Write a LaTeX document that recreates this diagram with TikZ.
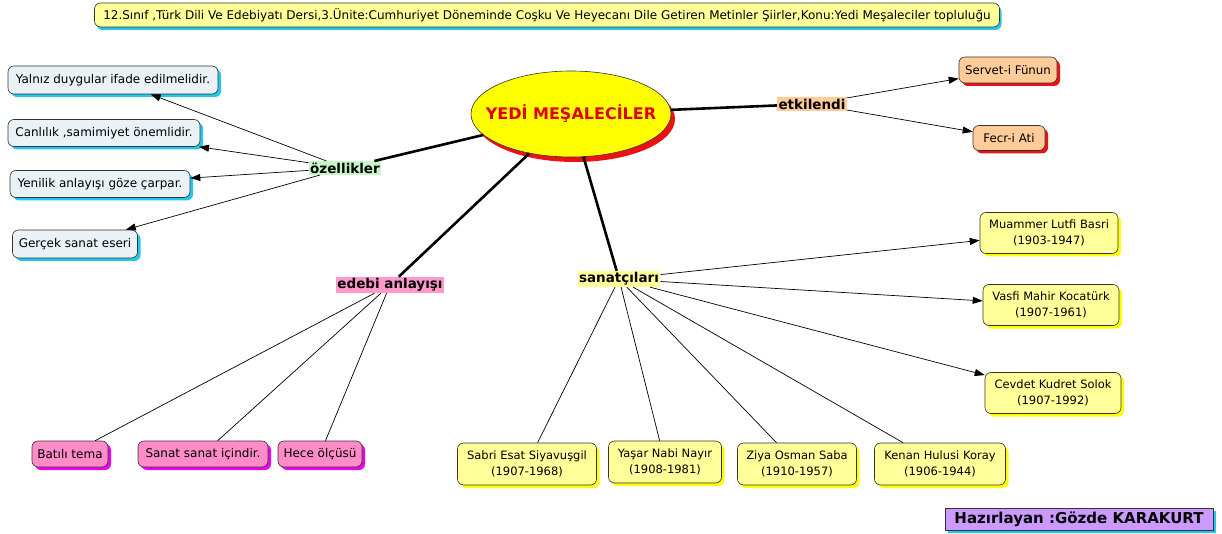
\documentclass[tikz,border=0pt]{standalone}
\usepackage{fontspec}
\setmainfont{DejaVu Sans}
\usetikzlibrary{shapes.geometric,shadows,arrows.meta}
\definecolor{boxblue}{HTML}{EAF2F6}
\definecolor{shcyan}{HTML}{1FC8EC}
\definecolor{orbox}{HTML}{FFCC99}
\definecolor{shred}{HTML}{EE1111}
\definecolor{pkbox}{HTML}{FF8CC8}
\definecolor{shmag}{HTML}{EE00EE}
\definecolor{ylbox}{HTML}{FFFF99}
\definecolor{shyel}{HTML}{FFFF00}
\definecolor{lgreen}{HTML}{C8F5C8}
\definecolor{lorange}{HTML}{FFCC99}
\definecolor{lpink}{HTML}{FF99CC}
\definecolor{lyellow}{HTML}{FFFF99}
\definecolor{purp}{HTML}{CC99FF}
\definecolor{titred}{HTML}{E00000}
\tikzset{
  every node/.style={font=\fontsize{12}{14}\selectfont},
  concept/.style={draw=black!80, line width=0.6pt, rounded corners=6pt, align=center,
     inner xsep=2pt, inner ysep=2pt, font=\fontsize{12}{14}\selectfont},
  bluebox/.style={concept, fill=boxblue, drop shadow={shadow xshift=3pt, shadow yshift=-3pt, fill=shcyan, opacity=1}},
  orbx/.style={concept, fill=orbox, font=\fontsize{11.8}{13}\selectfont, drop shadow={shadow xshift=3pt, shadow yshift=-3pt, fill=shred, opacity=1}},
  pkbx/.style={concept, fill=pkbox, drop shadow={shadow xshift=3pt, shadow yshift=-3pt, fill=shmag, opacity=1}},
  ylbx/.style={concept, fill=ylbox, font=\fontsize{11.5}{16}\selectfont, drop shadow={shadow xshift=3pt, shadow yshift=-3pt, fill=shyel, opacity=1}},
  lbl/.style={inner sep=1.5pt, font=\fontsize{13.5}{15}\selectfont\bfseries},
  thick link/.style={line width=2.6pt},
  thin link/.style={line width=0.7pt},
  arr/.style={thin link, -{Triangle[length=10pt,width=7pt]}},
}
\begin{document}
\begin{tikzpicture}[x=1pt,y=-1pt]
\useasboundingbox (0,0) rectangle (1222,534);
% title
\node[concept, fill=ylbox, minimum width=905, minimum height=24, font=\fontsize{12}{13}\selectfont,
  drop shadow={shadow xshift=2pt, shadow yshift=-3pt, fill=shcyan, opacity=1}] (title) at (547,15)
  {12.Sınıf ,Türk Dili Ve Edebiyatı Dersi,3.Ünite:Cumhuriyet Döneminde Coşku Ve Heyecanı Dile Getiren Metinler Şiirler,Konu:Yedi Meşaleciler topluluğu};
% central
\node[ellipse, draw=black!80, line width=0.6pt, fill=shyel, minimum width=200, minimum height=86, inner sep=0pt,
  drop shadow={shadow xshift=4pt, shadow yshift=-5pt, fill=shred, opacity=1},
  font=\fontsize{16}{18}\selectfont\bfseries, text=titred] (ell) at (571,114) {\makebox[0pt]{YEDİ MEŞALECİLER}};
% labels
\node[lbl, fill=lgreen] (oz) at (345,168) {özellikler};
\node[lbl, fill=lorange] (et) at (812,104) {etkilendi};
\node[lbl, fill=lpink] (ed) at (390,285) {edebi anlayışı};
\node[lbl, fill=lyellow] (sa) at (619,279) {sanatçıları};
% blue boxes
\node[bluebox, minimum width=210, minimum height=28] (b1) at (113,80) {Yalnız duygular ifade edilmelidir.};
\node[bluebox, minimum width=192, minimum height=27] (b2) at (104,133) {Canlılık ,samimiyet önemlidir.};
\node[bluebox, minimum width=180, minimum height=27] (b3) at (100,184) {Yenilik anlayışı göze çarpar.};
\node[bluebox, minimum width=125, minimum height=28] (b4) at (75,244) {Gerçek sanat eseri};
% orange boxes
\node[orbx, minimum width=98, minimum height=26] (o1) at (1008,70) {Servet-i Fünun};
\node[orbx, minimum width=72, minimum height=25] (o2) at (1009,138) {Fecr-i Ati};
% pink boxes
\node[pkbx, minimum width=76, minimum height=26] (p1) at (70,454) {Batılı tema};
\node[pkbx, minimum width=130, minimum height=26] (p2) at (203,454) {Sanat sanat içindir.};
\node[pkbx, minimum width=84, minimum height=26] (p3) at (320,454) {Hece ölçüsü};
% yellow boxes
\node[ylbx, minimum width=139, minimum height=42] (y1) at (527,464) {Sabri Esat Siyavuşgil\\(1907-1968)};
\node[ylbx, minimum width=113, minimum height=42] (y2) at (665,462) {Yaşar Nabi Nayır\\(1908-1981)};
\node[ylbx, minimum width=119, minimum height=42] (y3) at (797,464) {Ziya Osman Saba\\(1910-1957)};
\node[ylbx, minimum width=131, minimum height=42] (y4) at (940,464) {Kenan Hulusi Koray\\(1906-1944)};
\node[ylbx, minimum width=138, minimum height=41] (y5) at (1049,233) {Muammer Lutfi Basri\\(1903-1947)};
\node[ylbx, minimum width=136, minimum height=41] (y6) at (1051,305) {Vasfi Mahir Kocatürk\\(1907-1961)};
\node[ylbx, minimum width=136, minimum height=41] (y7) at (1053,393) {Cevdet Kudret Solok\\(1907-1992)};
% author
\node[draw=black!80, line width=0.6pt, fill=purp, minimum width=268, minimum height=22, inner sep=1pt,
  font=\fontsize{15}{17}\selectfont\bfseries,
  drop shadow={shadow xshift=3pt, shadow yshift=-3pt, fill=shcyan, opacity=1}] (au) at (1079,519)
  {Hazırlayan :Gözde KARAKURT};
% thick links
\draw[thick link] (ell) -- (oz);
\draw[thick link] (ell) -- (et);
\draw[thick link] (ell) -- (ed);
\draw[thick link] (ell) -- (sa);
% arrows
\draw[arr] (oz) -- (b1);
\draw[arr] (oz) -- (b2);
\draw[arr] (oz) -- (b3);
\draw[arr] (oz) -- (b4);
\draw[arr] (et) -- (o1);
\draw[arr] (et) -- (o2);
\draw[thin link] (ed) -- (p1);
\draw[thin link] (ed) -- (p2);
\draw[thin link] (ed) -- (p3);
\draw[thin link] (sa) -- (y1);
\draw[thin link] (sa) -- (y2);
\draw[thin link] (sa) -- (y3);
\draw[thin link] (sa) -- (y4);
\draw[arr] (sa) -- (y5);
\draw[arr] (sa) -- (y6);
\draw[arr] (sa) -- (y7);
\end{tikzpicture}
\end{document}
